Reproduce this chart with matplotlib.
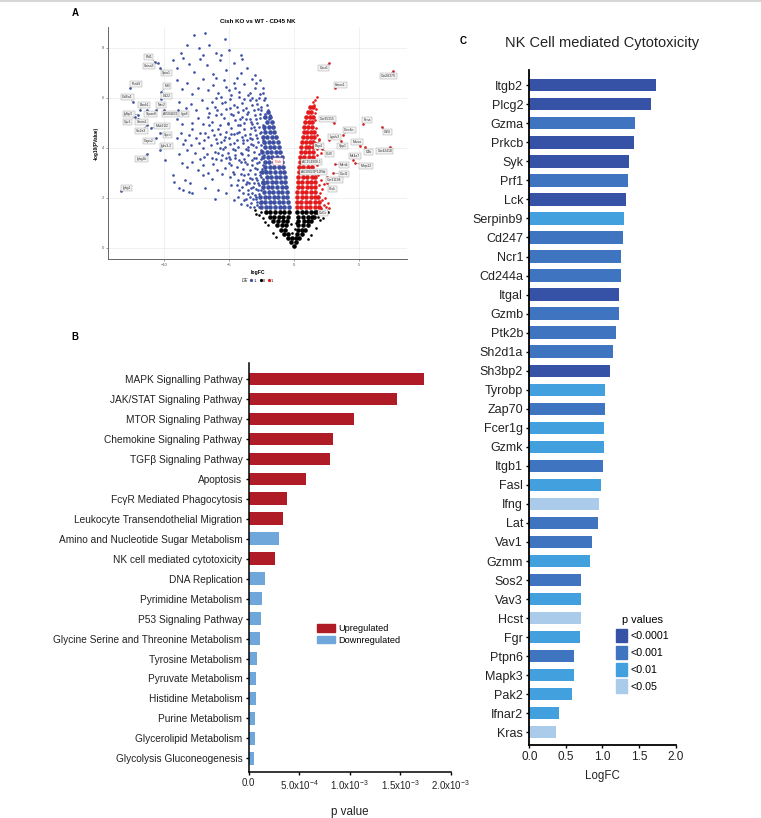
import matplotlib
matplotlib.use('Agg')
import matplotlib.pyplot as plt
from matplotlib.patches import Patch
from matplotlib.lines import Line2D

plt.rcParams['font.family'] = ['Liberation Sans', 'DejaVu Sans']
plt.rcParams['mathtext.fontset'] = 'custom'
plt.rcParams['mathtext.rm'] = 'Liberation Sans'
plt.rcParams['mathtext.it'] = 'Liberation Sans:italic'
plt.rcParams['mathtext.bf'] = 'Liberation Sans:bold'

# ---------------- Panel A data (logFC, -log10 p) ----------------
# dense cores (read row by row from the saturated areas)
black_core_rows = [
    (0.08, [0.0]),
    (0.22, [-0.2, 0.15]),
    (0.38, [-0.45, -0.15, 0.2, 0.42]),
    (0.55, [-0.75, -0.45, 0.25, 0.6]),
    (0.72, [-1.0, -0.65, 0.3, 0.65, 0.85]),
    (0.9, [-1.3, -0.95, -0.6, 0.32, 0.7, 1.05]),
    (1.08, [-1.6, -1.25, -0.85, -0.55, 0.35, 0.75, 1.1, 1.3]),
    (1.25, [-1.85, -1.5, -1.15, -0.8, -0.45, 0.3, 0.7, 1.05, 1.4, 1.55]),
    (1.42, [-2.15, -1.8, -1.45, -1.1, -0.75, -0.4, 0.25, 0.6, 0.95, 1.3, 1.6, 1.8]),
]
black_pts = [(-2.5, 1.45), (-2.7, 1.3), (-2.35, 1.2), (2.1, 1.5), (2.4, 1.38), (2.0, 1.1),
             (-2.0, 0.9), (1.7, 0.8), (-1.6, 0.6), (1.3, 0.5), (2.6, 1.45), (-3.0, 1.5),
             (-2.2, 1.05), (1.85, 1.25), (-1.4, 0.45), (1.1, 0.35), (-2.9, 1.35), (2.25, 1.2),
             (-0.15, 0.6), (0.1, 0.75), (-0.25, 0.95), (0.15, 1.0)]

blue_core_rows = [
    (1.65, [-0.4, -0.75, -1.1, -1.45, -1.8, -2.15, -2.5]),
    (1.85, [-0.45, -0.8, -1.15, -1.5, -1.85, -2.2, -2.55]),
    (2.05, [-0.5, -0.85, -1.2, -1.55, -1.9, -2.25, -2.6]),
    (2.25, [-0.55, -0.9, -1.25, -1.6, -1.95, -2.3]),
    (2.45, [-0.62, -0.95, -1.3, -1.65, -2.0, -2.35]),
    (2.65, [-0.67, -1.0, -1.35, -1.7, -2.05, -2.4]),
    (2.85, [-0.72, -1.05, -1.4, -1.75, -2.1]),
    (3.05, [-0.78, -1.1, -1.45, -1.8, -2.15, -2.45]),
    (3.25, [-0.83, -1.15, -1.5, -1.85, -2.2]),
    (3.45, [-0.88, -1.2, -1.55, -1.9, -2.25]),
    (3.65, [-0.95, -1.3, -1.65, -2.0, -2.35]),
    (3.85, [-1.05, -1.4, -1.75, -2.1, -2.45]),
    (4.05, [-1.15, -1.5, -1.85, -2.2]),
    (4.25, [-1.25, -1.6, -1.95, -2.3]),
    (4.45, [-1.38, -1.7, -2.05, -2.4]),
    (4.65, [-1.5, -1.85, -2.2]),
    (4.85, [-1.6, -1.95, -2.3]),
    (5.05, [-1.7, -2.05]),
    (5.25, [-1.85, -2.2]),
    (5.45, [-2.0]),
]
blue_pts = [
    (-2.8, 1.7), (-3.1, 1.62), (-2.9, 1.95), (-3.3, 1.8), (-3.6, 1.7), (-2.7, 2.15), (-3.0, 2.1),
    (-3.4, 2.05), (-3.8, 1.9), (-4.1, 1.75), (-2.6, 1.8), (-3.2, 2.2),
    (-2.5, 2.3), (-2.7, 2.5), (-2.9, 2.35), (-3.1, 2.6), (-3.3, 2.4), (-3.5, 2.3), (-3.7, 2.55),
    (-4.0, 2.45), (-4.3, 2.7), (-2.4, 2.75), (-2.6, 2.9), (-2.8, 2.7), (-3.0, 2.95), (-3.4, 2.8),
    (-3.8, 2.9), (-4.6, 2.95), (-4.9, 2.85), (-2.3, 2.55), (-3.6, 2.65), (-4.2, 2.3),
    (-2.2, 3.1), (-2.4, 3.3), (-2.6, 3.05), (-2.8, 3.4), (-3.0, 3.2), (-3.2, 3.5), (-3.4, 3.1),
    (-3.6, 3.35), (-3.9, 3.15), (-4.1, 3.45), (-4.4, 3.25), (-4.7, 3.05), (-5.0, 3.4), (-5.3, 3.2),
    (-5.6, 3.5), (-5.9, 3.1), (-6.2, 3.35), (-6.6, 3.0), (-7.0, 3.3), (-7.4, 3.1), (-7.8, 3.45),
    (-8.2, 3.25), (-8.6, 3.4), (-2.5, 3.55), (-3.8, 3.55), (-4.9, 3.55), (-6.0, 3.55), (-7.2, 3.55),
    (-2.9, 3.6), (-4.5, 3.6),
    (-2.3, 3.7), (-2.5, 3.9), (-2.7, 3.75), (-2.9, 4.05), (-3.1, 3.85), (-3.3, 4.15), (-3.5, 3.7),
    (-3.7, 3.95), (-3.9, 4.2), (-4.1, 3.8), (-4.3, 4.05), (-4.5, 3.7), (-4.7, 3.95), (-4.9, 4.15),
    (-5.1, 3.8), (-5.3, 4.05), (-5.5, 3.7), (-5.7, 4.0), (-5.9, 4.2), (-6.1, 3.85), (-6.4, 4.1),
    (-6.7, 3.75), (-7.0, 4.0), (-7.3, 4.2), (-7.6, 3.8), (-7.9, 4.1), (-8.2, 3.9), (-8.5, 4.15),
    (-8.8, 3.75), (-2.2, 4.2), (-6.9, 3.65), (-5.0, 3.65),
    (-2.4, 4.3), (-2.6, 4.6), (-2.8, 4.4), (-3.0, 4.7), (-3.2, 4.35), (-3.4, 4.55), (-3.6, 4.3),
    (-3.8, 4.75), (-4.0, 4.45), (-4.2, 4.65), (-4.4, 4.3), (-4.6, 4.55), (-4.8, 4.8), (-5.0, 4.4),
    (-5.2, 4.65), (-5.4, 4.3), (-5.7, 4.55), (-6.0, 4.35), (-6.3, 4.7), (-6.6, 4.45), (-6.9, 4.3),
    (-7.2, 4.6), (-7.5, 4.4), (-7.8, 4.75), (-8.1, 4.5), (-8.4, 4.3), (-8.7, 4.6), (-9.0, 4.4),
    (-2.3, 4.75), (-3.3, 4.8),
    (-2.4, 4.9), (-2.6, 5.2), (-2.8, 5.0), (-3.0, 5.3), (-3.2, 4.95), (-3.4, 5.15), (-3.6, 5.35),
    (-3.8, 5.0), (-4.0, 5.25), (-4.3, 4.9), (-4.5, 5.1), (-4.8, 5.35), (-5.1, 5.0), (-5.4, 5.2),
    (-5.7, 4.9), (-6.0, 5.3), (-6.3, 5.05), (-6.6, 5.25), (-7.0, 4.95), (-7.4, 5.2), (-7.8, 5.0),
    (-8.2, 5.3), (-8.6, 4.95), (-9.0, 5.15), (-2.2, 5.35),
    (-2.5, 5.5), (-2.8, 5.75), (-3.1, 5.5), (-3.4, 5.9), (-3.7, 5.6), (-4.0, 5.8), (-4.3, 5.45),
    (-4.6, 5.7), (-4.9, 5.95), (-5.2, 5.55), (-5.5, 5.8), (-5.9, 5.5), (-6.3, 5.85), (-6.7, 5.6),
    (-7.1, 5.9), (-7.5, 5.5), (-7.9, 5.75), (-8.3, 5.6), (-8.8, 5.85), (-2.3, 5.9), (-3.2, 6.0),
    (-6.0, 6.0),
    (-2.6, 6.15), (-3.0, 6.4), (-3.4, 6.2), (-3.8, 6.55), (-4.2, 6.25), (-4.6, 6.6), (-5.0, 6.3),
    (-5.4, 6.7), (-5.8, 6.2), (-6.2, 6.5), (-6.6, 6.3), (-7.0, 6.75), (-7.4, 6.4), (-7.8, 6.15),
    (-8.2, 6.6), (-8.6, 6.35), (-9.0, 6.7), (-2.4, 6.4), (-4.4, 6.8), (-6.0, 6.8),
    (-3.0, 6.9), (-3.6, 7.2), (-4.1, 7.0), (-4.6, 7.4), (-5.2, 7.1), (-5.7, 7.5), (-6.2, 6.95),
    (-6.7, 7.3), (-7.2, 7.55), (-7.7, 7.05), (-8.1, 7.35), (-8.5, 7.6), (-9.0, 7.2), (-9.3, 7.5),
    (-4.0, 7.55),
    (-4.1, 7.7), (-5.0, 7.9), (-5.3, 8.35), (-6.0, 7.8), (-6.5, 8.1), (-6.8, 8.6), (-7.3, 8.0),
    (-7.7, 8.5), (-8.2, 8.1), (-8.7, 7.8), (-5.6, 7.7), (-7.0, 7.7),
    (-9.3, 2.9), (-9.2, 2.65), (-8.8, 2.4), (-8.5, 2.3), (-8.1, 2.25), (-7.8, 2.2), (-8.4, 2.7),
    (-8.0, 2.6), (-9.9, 3.5), (-7.0, 2.9), (-6.3, 2.75), (-5.5, 2.95), (-6.8, 2.4), (-5.8, 2.3),
    (-6.1, 1.95), (-4.6, 1.9), (-4.8, 2.5), (-5.2, 2.2),
    (-1.8, 5.3), (-2.0, 5.5), (-2.1, 5.7), (-2.2, 6.0), (-1.9, 5.15), (-2.3, 5.25), (-2.5, 5.65),
    (-2.7, 6.0), (-2.4, 6.2), (-2.9, 6.6), (-2.6, 6.7), (-3.2, 6.75),
    (-2.45, 3.15), (-2.65, 3.45), (-2.85, 3.15), (-3.05, 3.6), (-3.25, 3.3), (-3.5, 3.9),
    (-3.75, 3.45), (-4.0, 3.75), (-4.25, 3.5), (-4.55, 3.9), (-4.8, 3.3), (-5.2, 3.6),
    (-5.45, 3.95), (-5.8, 3.8), (-6.3, 3.6),
    (-2.55, 4.1), (-2.75, 4.25), (-2.95, 4.5), (-3.15, 4.1), (-3.35, 4.4), (-3.55, 4.05),
    (-3.75, 4.5), (-3.95, 4.3), (-4.15, 4.9), (-4.35, 4.6), (-4.6, 4.2), (-4.85, 4.55),
    (-5.05, 4.95), (-5.3, 4.45), (-5.6, 4.25), (-5.85, 4.75), (-6.15, 4.5), (-6.5, 4.9), (-6.8, 4.6),
    (-2.5, 4.65), (-2.7, 4.85), (-2.9, 5.15), (-3.1, 4.85), (-3.3, 5.05), (-3.5, 5.45),
    (-3.7, 5.15), (-3.9, 5.5), (-4.15, 5.15), (-4.4, 5.65), (-4.65, 5.3), (-4.95, 5.6),
    (-5.3, 5.85), (-5.6, 5.35), (-6.1, 5.65), (-6.5, 5.4),
    (-2.6, 5.35), (-2.75, 5.55), (-2.95, 5.9), (-3.2, 5.7), (-3.55, 6.1), (-3.85, 5.95),
    (-4.2, 6.05), (-4.5, 6.4), (-4.8, 6.1), (-5.2, 6.45), (-5.6, 6.05),
    (-2.35, 2.4), (-2.45, 2.6), (-2.55, 2.85), (-2.75, 2.6), (-2.95, 2.8), (-3.15, 2.45),
    (-3.25, 2.75), (-3.45, 2.6), (-3.55, 2.95), (-3.9, 2.7), (-4.1, 2.95), (-4.4, 2.5),
    (-2.65, 1.65), (-2.85, 1.85), (-2.95, 2.05), (-3.15, 1.95), (-3.35, 1.65), (-3.5, 2.15),
    (-3.7, 1.95), (-3.95, 2.2), (-4.3, 2.05), (-2.75, 2.3),
]

red_core_rows = [
    (1.65, [0.22, 0.55, 0.9, 1.25, 1.6, 1.9]),
    (1.85, [0.24, 0.58, 0.92, 1.27, 1.62, 1.9]),
    (2.05, [0.26, 0.6, 0.95, 1.3, 1.65, 1.88]),
    (2.25, [0.27, 0.62, 0.97, 1.32, 1.65]),
    (2.45, [0.29, 0.63, 0.98, 1.33, 1.65]),
    (2.65, [0.31, 0.65, 1.0, 1.35, 1.62]),
    (2.85, [0.33, 0.67, 1.02, 1.36, 1.6]),
    (3.05, [0.36, 0.7, 1.04, 1.38, 1.58]),
    (3.25, [0.4, 0.73, 1.07, 1.4]),
    (3.45, [0.44, 0.77, 1.1, 1.42]),
    (3.65, [0.48, 0.8, 1.13, 1.44]),
    (3.85, [0.53, 0.85, 1.17, 1.46]),
    (4.05, [0.58, 0.9, 1.2, 1.48]),
    (4.25, [0.63, 0.94, 1.24, 1.5]),
    (4.45, [0.68, 0.98, 1.28, 1.52]),
    (4.65, [0.74, 1.04, 1.32, 1.55]),
    (4.85, [0.8, 1.1, 1.38]),
    (5.05, [0.88, 1.17, 1.43]),
    (5.25, [0.97, 1.25, 1.48]),
    (5.45, [1.1, 1.35]),
    (5.65, [1.25, 1.45]),
]
red_pts = [
    (2.1, 1.6), (2.3, 1.7), (2.5, 1.62), (2.2, 1.9), (2.4, 2.0), (2.0, 2.2), (2.2, 2.35), (1.9, 2.5),
    (2.1, 2.7), (1.85, 2.9), (2.0, 3.1), (1.8, 3.3), (1.9, 3.5), (1.75, 3.7), (1.8, 3.95), (1.7, 4.2),
    (1.75, 4.5), (1.7, 4.8), (1.65, 5.1), (1.6, 5.4), (1.55, 5.7), (1.6, 5.9), (1.75, 6.05),
    (1.45, 5.85), (1.7, 5.55), (2.6, 1.8), (2.35, 2.55), (2.2, 3.0), (2.05, 3.8), (1.95, 4.35),
]

# labelled genes: name, point x, point y, label x, label y
up_labels = [
    ("Cxcr1", 2.72, 7.39, 2.3, 7.2), ("Gm28379", 7.64, 7.08, 7.26, 6.88),
    ("Hmox1", 3.18, 6.39, 3.59, 6.51), ("Gm35315", 3.1, 4.99, 2.59, 5.17),
    ("Fcna", 5.33, 4.96, 5.64, 5.12), ("Clec4n", 3.79, 4.52, 4.26, 4.73),
    ("Cd5l", 6.74, 4.85, 7.2, 4.65), ("Lgals3", 2.72, 4.32, 3.13, 4.43),
    ("Marco", 5.08, 4.09, 4.87, 4.25), ("C4b", 5.46, 4.05, 5.74, 3.83),
    ("Gm42418", 7.38, 4.05, 7.0, 3.89), ("Spp1", 3.62, 4.28, 3.74, 4.07),
    ("Ms4a7", 4.55, 3.5, 4.69, 3.67), ("Mmp12", 4.7, 3.4, 5.54, 3.29),
    ("Mertk", 3.15, 3.36, 3.85, 3.33), ("Cxcl1", 3.0, 3.0, 3.85, 2.97),
    ("Gm31194", 2.51, 2.85, 3.13, 2.71), ("Ctsk", 2.51, 2.59, 2.97, 2.37),
    ("Csf1r", 2.72, 1.59, 2.26, 1.41), ("Rbp4", 1.9, 4.3, 1.95, 4.07),
    ("Ccl9", 2.2, 3.95, 2.72, 3.75), ("AC154908.1", 1.8, 3.5, 1.36, 3.43),
    ("A630023P12Rik", 1.85, 3.1, 1.49, 3.05),
]
down_labels = [
    ("Pid1", -10.69, 7.45, -11.15, 7.64), ("Shisa3", -10.45, 7.39, -11.15, 7.29),
    ("Spta1", -10.3, 7.19, -9.8, 6.99), ("Pcsk9", -12.6, 6.39, -12.15, 6.56),
    ("Col6a1", -12.4, 5.85, -12.8, 6.03), ("Mt3", -10.2, 6.25, -9.74, 6.47),
    ("Cd22", -10.2, 5.95, -9.8, 6.07), ("Bank1", -11.85, 5.52, -11.5, 5.71),
    ("Nav2", -10.6, 5.5, -10.2, 5.71), ("Igfbp5", -11.97, 5.32, -12.7, 5.37),
    ("Tspan8", -11.3, 5.52, -11.0, 5.37), ("AI504432", -10.0, 5.52, -9.54, 5.37),
    ("Itga8", -8.9, 5.52, -8.44, 5.37), ("Gpr1", -12.2, 5.25, -12.8, 5.05),
    ("Smim1", -12.0, 5.15, -11.7, 5.04), ("Mab21l2", -11.0, 4.8, -10.15, 4.88),
    ("Slc2a3", -11.3, 4.9, -11.74, 4.67), ("Sycn", -10.3, 4.6, -9.72, 4.51),
    ("Caps2", -10.6, 4.4, -11.13, 4.27), ("Igkv3-2", -10.3, 3.92, -9.8, 4.07),
    ("Ighg2b", -11.3, 3.76, -11.7, 3.57), ("Ighg1", -13.33, 2.29, -12.87, 2.41),
]
cish_label = ("Cish", -0.9, 3.35, -1.2, 3.45)

# ---------------- Panel B data ----------------
pathways = ["MAPK Signalling Pathway", "JAK/STAT Signaling Pathway", "MTOR Signaling Pathway",
            "Chemokine Signaling Pathway", "TGFβ Signaling Pathway", "Apoptosis",
            "FcγR Mediated Phagocytosis", "Leukocyte Transendothelial Migration",
            "Amino and Nucleotide Sugar Metabolism", "NK cell mediated cytotoxicity",
            "DNA Replication", "Pyrimidine Metabolism", "P53 Signaling Pathway",
            "Glycine Serine and Threonine Metabolism", "Tyrosine Metabolism",
            "Pyruvate Metabolism", "Histidine Metabolism", "Purine Metabolism",
            "Glycerolipid Metabolism", "Glycolysis Gluconeogenesis"]
pathway_p = [1.74e-3, 1.467e-3, 1.043e-3, 8.36e-4, 8.03e-4, 5.66e-4, 3.75e-4, 3.42e-4,
             3.0e-4, 2.63e-4, 1.58e-4, 1.28e-4, 1.25e-4, 1.09e-4, 8.6e-5, 7.6e-5, 7.6e-5,
             6.2e-5, 5.9e-5, 5.6e-5]
pathway_dir = ["Up"] * 8 + ["Down", "Up"] + ["Down"] * 10
b_xticks = [0, 5e-4, 1e-3, 1.5e-3, 2e-3]
b_xticklabels = ["0.0", r"5.0x10$^{-4}$", r"1.0x10$^{-3}$", r"1.5x10$^{-3}$", r"2.0x10$^{-3}$"]

# ---------------- Panel C data ----------------
genes = ["Itgb2", "Plcg2", "Gzma", "Prkcb", "Syk", "Prf1", "Lck", "Serpinb9", "Cd247", "Ncr1",
         "Cd244a", "Itgal", "Gzmb", "Ptk2b", "Sh2d1a", "Sh3bp2", "Tyrobp", "Zap70", "Fcer1g",
         "Gzmk", "Itgb1", "Fasl", "Ifng", "Lat", "Vav1", "Gzmm", "Sos2", "Vav3", "Hcst", "Fgr",
         "Ptpn6", "Mapk3", "Pak2", "Ifnar2", "Kras"]
gene_logfc = [1.726, 1.662, 1.438, 1.425, 1.365, 1.352, 1.315, 1.297, 1.279, 1.251, 1.247,
              1.228, 1.219, 1.183, 1.146, 1.096, 1.041, 1.032, 1.027, 1.014, 1.009, 0.982,
              0.959, 0.932, 0.858, 0.831, 0.712, 0.712, 0.712, 0.699, 0.616, 0.612, 0.584,
              0.406, 0.365]
gene_pcat = ["<0.0001", "<0.0001", "<0.001", "<0.0001", "<0.0001", "<0.001", "<0.0001", "<0.01",
             "<0.001", "<0.001", "<0.001", "<0.0001", "<0.001", "<0.001", "<0.001", "<0.0001",
             "<0.01", "<0.001", "<0.01", "<0.01", "<0.001", "<0.01", "<0.05", "<0.001", "<0.001",
             "<0.01", "<0.001", "<0.01", "<0.05", "<0.01", "<0.001", "<0.01", "<0.01", "<0.01",
             "<0.05"]
pcat_levels = ["<0.0001", "<0.001", "<0.01", "<0.05"]

# ---------------- styles ----------------
BLUE_A, RED_A = "#3c4fa3", "#e31a1c"
UP_COL, DOWN_COL = "#b01c26", "#6fa7db"
PCOL = {"<0.0001": "#3652a6", "<0.001": "#3f75c0", "<0.01": "#41a0dd", "<0.05": "#abcbeb"}


def expand(rows):
    xs, ys = [], []
    for y, row in rows:
        for x in row:
            xs.append(x)
            ys.append(y)
    return xs, ys


fig = plt.figure(figsize=(7.61, 8.18), dpi=100)
fig.patch.set_facecolor("white")
fig.add_artist(Line2D([0, 1], [0.9985, 0.9985], transform=fig.transFigure, color="#d6d6d6", lw=1.5))

# ================= Panel A =================
axA = fig.add_axes([0.1419, 0.6834, 0.3929, 0.2836])
axA.set_xlim(-14.3, 8.7)
axA.set_ylim(-0.44, 8.84)
axA.set_xticks([-10, -5, 0, 5])
axA.set_yticks([0, 2, 4, 6, 8])
axA.grid(True, color="#ececec", lw=0.5)
axA.set_axisbelow(True)
for s in ["top", "right"]:
    axA.spines[s].set_visible(False)
for s in ["left", "bottom"]:
    axA.spines[s].set_color("#666666")
    axA.spines[s].set_linewidth(0.7)
axA.tick_params(labelsize=3, colors="#555555", length=1.5, width=0.4, pad=1.5)

core_s, pt_s = 11, 3.6
x, y = expand(black_core_rows)
axA.scatter(x, y, s=core_s, c="black", lw=0, zorder=2)
axA.scatter([p[0] for p in black_pts], [p[1] for p in black_pts], s=pt_s, c="black", lw=0, zorder=2)
x, y = expand(blue_core_rows)
axA.scatter(x, y, s=core_s, c=BLUE_A, lw=0, zorder=2)
axA.scatter([p[0] for p in blue_pts], [p[1] for p in blue_pts], s=pt_s, c=BLUE_A, lw=0, zorder=2)
x, y = expand(red_core_rows)
axA.scatter(x, y, s=core_s, c=RED_A, lw=0, zorder=2)
axA.scatter([p[0] for p in red_pts], [p[1] for p in red_pts], s=pt_s, c=RED_A, lw=0, zorder=2)

for lst, col in [(up_labels, RED_A), (down_labels, BLUE_A)]:
    axA.scatter([l[1] for l in lst], [l[2] for l in lst], s=pt_s, c=col, lw=0, zorder=3)
    for name, px, py, tx, ty in lst:
        axA.annotate(name, xy=(px, py), xytext=(tx, ty), fontsize=2.4, ha="center", va="center",
                     color="#333333", zorder=4,
                     bbox=dict(boxstyle="square,pad=0.35", fc="#f3f3f3", ec="#9a9a9a", lw=0.3),
                     arrowprops=dict(arrowstyle="-", lw=0.3, color="#555555", shrinkA=0, shrinkB=0))
name, px, py, tx, ty = cish_label
axA.annotate(name, xy=(px, py), xytext=(tx, ty), fontsize=2.6, ha="center", va="center",
             color="#d62728", zorder=4,
             bbox=dict(boxstyle="square,pad=0.35", fc="white", ec="#e08080", lw=0.3))

axA.set_title("Cish KO vs WT - CD45 NK", fontsize=4.4, fontweight="bold", pad=3)
axA.set_xlabel("logFC", fontsize=3.6, fontweight="bold", labelpad=2)
axA.set_ylabel("-log10(PValue)", fontsize=3.4, fontweight="bold", labelpad=2)
de_handles = [Line2D([], [], ls="", marker="o", ms=1.3, color=c, label=l)
              for c, l in [(BLUE_A, "-1"), ("black", "0"), (RED_A, "1")]]
axA.legend(handles=de_handles, ncol=3, fontsize=2.8, frameon=False,
           loc="center left", bbox_to_anchor=(0.468, -0.093), handlelength=0.8,
           handletextpad=0.2, columnspacing=0.5, borderpad=0)
fig.text(0.3175, 1 - 280.5 / 818, "DE", fontsize=3.4, style="italic", color="#333333",
         ha="left", va="center")

# ================= Panel B =================
axB = fig.add_axes([0.3268, 0.0566, 0.2654, 0.4996])
yb = list(range(len(pathways)))
axB.barh(yb, pathway_p, height=0.63,
         color=[UP_COL if d == "Up" else DOWN_COL for d in pathway_dir], zorder=2)
axB.set_ylim(len(pathways) - 1 + 0.67, -0.8)
axB.set_xlim(0, 2e-3)
axB.set_yticks(yb)
axB.set_yticklabels(pathways, fontsize=7.3, color="#222222")
axB.set_xticks(b_xticks)
axB.set_xticklabels(b_xticklabels, fontsize=7, color="#222222")
for s in ["top", "right"]:
    axB.spines[s].set_visible(False)
for s in ["left", "bottom"]:
    axB.spines[s].set_linewidth(1.1)
axB.tick_params(length=2.5, width=1.0, pad=2)
axB.set_xlabel("p value", fontsize=8.4, labelpad=10, color="#222222")
axB.legend(handles=[Patch(color=UP_COL, label="Upregulated"), Patch(color=DOWN_COL, label="Downregulated")],
           fontsize=6.6, frameon=False, loc="upper left", bbox_to_anchor=(0.315, 0.372),
           handlelength=2.0, handleheight=0.9, handletextpad=0.3, labelspacing=0.25, borderpad=0)

# ================= Panel C =================
axC = fig.add_axes([0.6955, 0.0892, 0.1924, 0.8252])
yc = list(range(len(genes)))
axC.barh(yc, gene_logfc, height=0.65, color=[PCOL[p] for p in gene_pcat], zorder=2)
axC.set_ylim(len(genes) - 1 + 0.67, -0.8)
axC.set_xlim(0, 2.0)
axC.set_yticks(yc)
axC.set_yticklabels(genes, fontsize=9, color="#222222")
axC.set_xticks([0, 0.5, 1.0, 1.5, 2.0])
axC.set_xticklabels(["0.0", "0.5", "1.0", "1.5", "2.0"], fontsize=8.5, color="#222222")
for s in ["top", "right"]:
    axC.spines[s].set_visible(False)
for s in ["left", "bottom"]:
    axC.spines[s].set_linewidth(1.3)
axC.tick_params(length=2.5, width=1.0, pad=2)
axC.set_xlabel("LogFC", fontsize=8.3, labelpad=5, color="#222222")
axC.legend(handles=[Patch(color=PCOL[p], label=p) for p in pcat_levels], title="p values",
           title_fontsize=7.9, fontsize=7.7, frameon=False, loc="upper left",
           bbox_to_anchor=(0.555, 0.2), handlelength=1.0, handleheight=1.5,
           handletextpad=0.4, labelspacing=0.35, borderpad=0)
fig.text(602.5 / 761, 1 - 43 / 818, "NK Cell mediated Cytotoxicity", fontsize=10.5,
         ha="center", va="center", color="#222222")

# panel letters
fig.text(75 / 761, 1 - 13 / 818, "A", fontsize=7, fontweight="bold", ha="center", va="center")
fig.text(75 / 761, 1 - 337 / 818, "B", fontsize=7, fontweight="bold", ha="center", va="center")
fig.text(463 / 761, 1 - 41 / 818, "C", fontsize=7, fontweight="bold", ha="center", va="center")

fig.savefig("out.png", dpi=100)
